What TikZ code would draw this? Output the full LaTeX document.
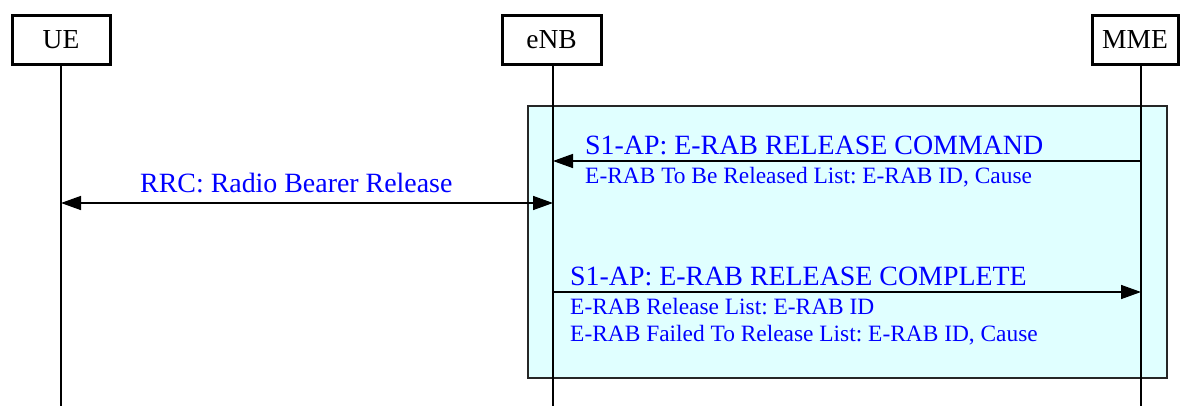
\documentclass[tikz,border=0pt]{standalone}
\usepackage{fontspec}
\setmainfont{Liberation Serif}
\usetikzlibrary{arrows.meta}
\definecolor{areafill}{RGB}{224,255,255}
\definecolor{msgblue}{RGB}{0,0,255}
\frenchspacing
\tikzset{
  entity/.style={draw=black, line width=3pt, fill=white, inner sep=0pt, minimum height=49pt,
    font=\fontsize{27.5}{32}\selectfont},
  lifeline/.style={draw=black, line width=2pt},
  msg/.style={draw=black, line width=1.5pt, -{Triangle[length=20pt,width=14pt]}},
  dmsg/.style={draw=black, line width=1.5pt, {Triangle[length=20pt,width=14pt]}-{Triangle[length=20pt,width=14pt]}},
  title/.style={text=msgblue, inner sep=0pt, anchor=base west, font=\fontsize{27.9}{32}\selectfont},
  sub/.style={text=msgblue, inner sep=0pt, anchor=base west, font=\fontsize{23.4}{27}\selectfont},
  area/.style={draw=black!85, line width=1.5pt, fill=areafill}
}
\begin{document}
\begin{tikzpicture}[x=1pt,y=-1pt]
\useasboundingbox (0,0) rectangle (1181,405);
% area box
\node[area, minimum width=639pt, minimum height=272pt, inner sep=0pt, anchor=north west] (zone) at (527,105) {};
% entities
\node[entity, minimum width=98pt] (ue) at (61,39.5) {UE};
\node[entity, minimum width=99pt] (enb) at (551.5,39.5) {eNB};
\node[entity, minimum width=86pt] (mme) at (1135,39.5) {MME};
% lifeline coordinates
\coordinate (ueT) at (61,64);   \coordinate (ueB) at (61,406);
\coordinate (enbT) at (553,64); \coordinate (enbB) at (553,406);
\coordinate (mmeT) at (1141,64); \coordinate (mmeB) at (1141,406);
\draw[lifeline] (ueT) -- (ueB);
\draw[lifeline] (enbT) -- (enbB);
\draw[lifeline] (mmeT) -- (mmeB);
% message points
\coordinate (m1s) at (1141,161); \coordinate (m1e) at (553,161);
\coordinate (m2s) at (61,203);   \coordinate (m2e) at (553,203);
\coordinate (m3s) at (553,292);  \coordinate (m3e) at (1141,292);
\draw[msg] (m1s) -- (m1e);
\draw[dmsg] (m2s) -- (m2e);
\draw[msg] (m3s) -- (m3e);
% labels
\node[title] (t1) at (585,154) {S1-AP: E-RAB RELEASE COMMAND};
\node[sub] (s1) at (585,183) {E-RAB To Be Released List: E-RAB ID, Cause};
\node[title] (t2) at (140,192) {RRC: Radio Bearer Release};
\node[title] (t3) at (570,285) {S1-AP: E-RAB RELEASE COMPLETE};
\node[sub] (s3a) at (570,314) {E-RAB Release List: E-RAB ID};
\node[sub] (s3b) at (570,341) {E-RAB Failed To Release List: E-RAB ID, Cause};
\end{tikzpicture}
\end{document}
